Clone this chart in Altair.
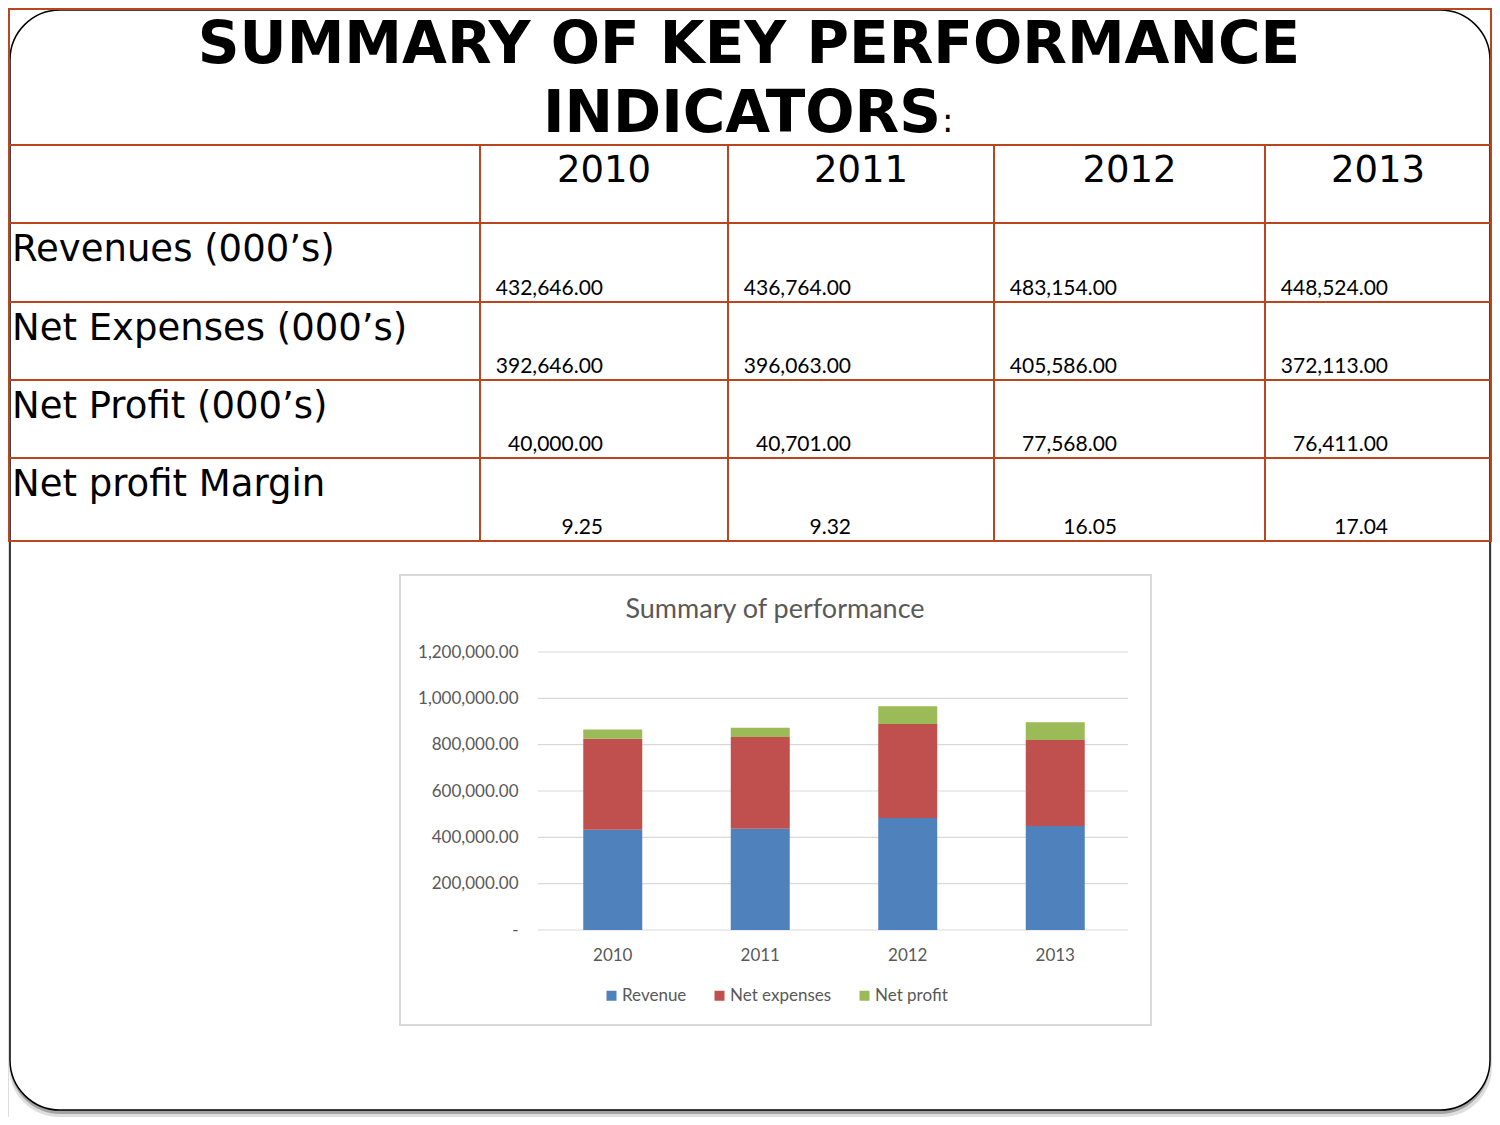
import altair as alt
import pandas as pd

# ---------------- data ----------------
YEARS = ["2010", "2011", "2012", "2013"]
ROW_LABELS = ["Revenues (000’s)", "Net Expenses (000’s)", "Net Profit (000’s)", "Net profit Margin"]
REVENUE = [432646.00, 436764.00, 483154.00, 448524.00]
NET_EXPENSES = [392646.00, 396063.00, 405586.00, 372113.00]
NET_PROFIT = [40000.00, 40701.00, 77568.00, 76411.00]
NET_PROFIT_MARGIN = [9.25, 9.32, 16.05, 17.04]
SERIES = ["Revenue", "Net expenses", "Net profit"]
SERIES_COLORS = ["#4f81bd", "#c0504d", "#9bbb59"]
Y_TICKS = [0, 200000, 400000, 600000, 800000, 1000000, 1200000]
TITLE_LINE_1 = "SUMMARY OF KEY PERFORMANCE"
TITLE_LINE_2 = "INDICATORS"
CHART_TITLE = "Summary of performance"

# ---------------- layout (pixels) ----------------
W, H = 1484, 1109
COL_EDGES = [1, 472, 720, 986, 1257, 1483]
ROW_EDGES = [1, 137, 215, 294, 372, 450, 533]
RED = "#b8461f"
GRAY_TXT = "#595959"
GRID = "#d9d9d9"

xs = alt.Scale(domain=list(range(len(COL_EDGES))), range=COL_EDGES, zero=False, nice=False)
ys = alt.Scale(domain=list(range(len(ROW_EDGES))), range=ROW_EDGES, zero=False, nice=False)

one = alt.Data(values=[{"a": 1}])

# ---------------- table data frames ----------------
cells = [{"c": 0, "c2": 5, "r": 0, "r2": 1}]
for r in range(1, 6):
    for c in range(5):
        cells.append({"c": c, "c2": c + 1, "r": r, "r2": r + 1})
cells_df = pd.DataFrame(cells)

header_df = pd.DataFrame({"c": [i + 1.5 for i in range(len(YEARS))], "r": [1] * len(YEARS), "t": YEARS})
labels_df = pd.DataFrame({"c": [0] * len(ROW_LABELS), "r": [i + 2 for i in range(len(ROW_LABELS))], "t": ROW_LABELS})

num_rows = []
for i, vals in enumerate([REVENUE, NET_EXPENSES, NET_PROFIT, NET_PROFIT_MARGIN]):
    for j, v in enumerate(vals):
        txt = f"{v:,.2f}" if i < 3 else f"{v:.2f}"
        num_rows.append({"c": j + 1, "r": i + 3, "t": txt})
nums_df = pd.DataFrame(num_rows)

bar_rows = []
for k, (s, vals) in enumerate(zip(SERIES, [REVENUE, NET_EXPENSES, NET_PROFIT])):
    for y, v in zip(YEARS, vals):
        bar_rows.append({"year": y, "series": s, "value": v, "k": k})
bars_df = pd.DataFrame(bar_rows)
ticks_df = pd.DataFrame({"t": Y_TICKS})

# ---------------- frame ----------------
shadow2 = alt.Chart(one).mark_rect(cornerRadius=50, fill="#c8c8c8", opacity=0.6).encode(
    x=alt.value(1), x2=alt.value(1484), y=alt.value(8), y2=alt.value(1109))
shadow1 = alt.Chart(one).mark_rect(cornerRadius=50, fill="#8a8a8a", opacity=0.7).encode(
    x=alt.value(2), x2=alt.value(1482), y=alt.value(5), y2=alt.value(1106))
frame = alt.Chart(one).mark_rect(cornerRadius=50, fill="white", stroke="black", strokeWidth=1.5).encode(
    x=alt.value(2), x2=alt.value(1482), y=alt.value(2), y2=alt.value(1102))

# ---------------- table ----------------
grid_cells = alt.Chart(cells_df).mark_rect(fillOpacity=0, stroke=RED, strokeWidth=2).encode(
    x=alt.X("c:Q", scale=xs, axis=None), x2="c2:Q",
    y=alt.Y("r:Q", scale=ys, axis=None), y2="r2:Q")

title1 = alt.Chart(one).mark_text(font="DejaVu Sans", fontWeight="bold", fontSize=58, align="center",
                                  baseline="alphabetic", color="black").encode(
    x=alt.value(741), y=alt.value(55), text=alt.value(TITLE_LINE_1))
title2 = alt.Chart(one).mark_text(font="DejaVu Sans", fontWeight="bold", fontSize=58, align="center",
                                  baseline="alphabetic", color="black").encode(
    x=alt.value(734), y=alt.value(124), text=alt.value(TITLE_LINE_2))
colon = alt.Chart(one).mark_text(font="DejaVu Sans", fontSize=34, align="left",
                                 baseline="alphabetic", color="black").encode(
    x=alt.value(934), y=alt.value(124), text=alt.value(":"))

header_txt = alt.Chart(header_df).mark_text(font="DejaVu Sans", fontSize=37, align="center",
                                            baseline="alphabetic", dy=37, color="black").encode(
    x=alt.X("c:Q", scale=xs, axis=None), y=alt.Y("r:Q", scale=ys, axis=None), text="t:N")
label_txt = alt.Chart(labels_df).mark_text(font="DejaVu Sans", fontSize=37, align="left",
                                           baseline="alphabetic", dx=3, dy=38, color="black").encode(
    x=alt.X("c:Q", scale=xs, axis=None), y=alt.Y("r:Q", scale=ys, axis=None), text="t:N")
num_txt = alt.Chart(nums_df).mark_text(font="Lato", fontSize=21, align="right",
                                       baseline="alphabetic", dx=123, dy=-7, color="black").encode(
    x=alt.X("c:Q", scale=xs, axis=None), y=alt.Y("r:Q", scale=ys, axis=None), text="t:N")

# ---------------- bar chart ----------------
bx = alt.Scale(domain=YEARS, range=[531, 1121], paddingInner=0.6, paddingOuter=0.3)
by = alt.Scale(domain=[0, 1200000], range=[922, 644], zero=False, nice=False)

box = alt.Chart(one).mark_rect(fill="white", stroke=GRID, strokeWidth=2).encode(
    x=alt.value(392), x2=alt.value(1143), y=alt.value(567), y2=alt.value(1017))
ctitle = alt.Chart(one).mark_text(font="Lato", fontSize=27, color=GRAY_TXT, align="center",
                                  baseline="middle").encode(
    x=alt.value(767), y=alt.value(602), text=alt.value(CHART_TITLE))
gridlines = alt.Chart(ticks_df).mark_rule(color=GRID, strokeWidth=1.2).encode(
    y=alt.Y("t:Q", scale=by, axis=None), x=alt.value(530), x2=alt.value(1120))

bars = alt.Chart(bars_df).mark_bar().encode(
    x=alt.X("year:N", scale=bx, sort=YEARS,
            axis=alt.Axis(orient="bottom", offset=-187, domain=False, ticks=False, grid=False,
                          labelPadding=17, labelFont="Lato", labelFontSize=17, labelColor=GRAY_TXT,
                          labelAngle=0, title=None, zindex=2)),
    y=alt.Y("value:Q", scale=by, stack="zero",
            axis=alt.Axis(orient="left", offset=-530, domain=False, ticks=False, grid=False,
                          values=Y_TICKS, labelPadding=20, labelFont="Lato", labelFontSize=17,
                          labelColor=GRAY_TXT, title=None, zindex=2,
                          labelExpr="datum.value == 0 ? '-\u2002' : format(datum.value, ',.2f')")),
    color=alt.Color("series:N", scale=alt.Scale(domain=SERIES, range=SERIES_COLORS),
                    legend=alt.Legend(orient="none", legendX=595, legendY=979, direction="horizontal",
                                      title=None, symbolType="square", symbolSize=100,
                                      symbolStrokeWidth=0, labelFont="Lato", labelFontSize=17,
                                      labelColor=GRAY_TXT, columnPadding=24, labelOffset=2,
                                      padding=0, zindex=2)),
    order=alt.Order("k:Q", sort="ascending"),
)

chart = alt.layer(
    shadow2, shadow1, frame, grid_cells, title1, title2, colon,
    header_txt, label_txt, num_txt, box, ctitle, gridlines, bars,
).resolve_scale(x="independent", y="independent").properties(
    width=W, height=H, autosize=alt.AutoSizeParams(type="none"), padding=0,
).configure_view(stroke="transparent").configure(background="white")

chart.save("out.html", embed_options={"renderer": "svg", "actions": False})
